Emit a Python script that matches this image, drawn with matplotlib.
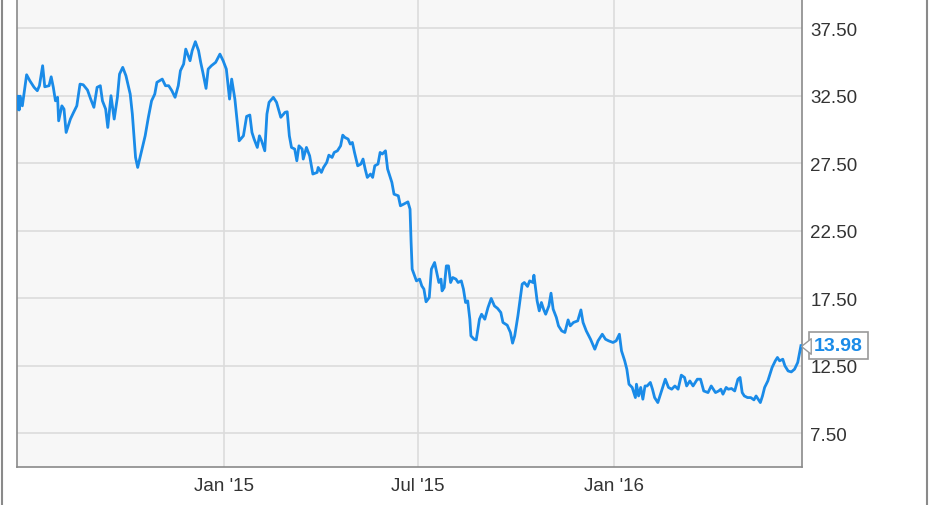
import pandas as pd
import matplotlib
matplotlib.use('Agg')
import matplotlib.pyplot as plt
from matplotlib.lines import Line2D
from matplotlib.path import Path
from matplotlib.markers import MarkerStyle

plt.rcParams['font.family'] = ['Liberation Sans', 'DejaVu Sans']

# Дані: дні від 2015-01-01 та ціна закриття
base_date = pd.Timestamp('2015-01-01')
day_offsets = [
    -194, -193, -192, -191, -189, -185, -182, -178, -175, -173,
    -170, -168, -164, -162, -160, -158, -156, -155, -152, -150,
    -148, -144, -141, -138, -135, -132, -128, -125, -122, -119,
    -116, -114, -111, -109, -106, -103, -100, -98, -95, -92,
    -88, -86, -83, -81, -78, -74, -71, -68, -65, -63,
    -58, -55, -52, -49, -46, -43, -41, -38, -36, -32,
    -30, -27, -24, -22, -20, -17, -15, -12, -8, -4,
    -1, 2, 5, 7, 10, 14, 18, 21, 24, 26,
    28, 31, 33, 35, 38, 40, 42, 46, 49, 53,
    57, 59, 61, 63, 66, 68, 70, 73, 74, 77,
    80, 83, 87, 88, 91, 93, 96, 98, 101, 103,
    106, 109, 111, 113, 116, 118, 120, 122, 125, 128,
    130, 132, 134, 137, 139, 141, 144, 146, 148, 151,
    153, 157, 159, 163, 165, 168, 172, 174, 175, 176,
    180, 183, 185, 187, 189, 192, 194, 197, 199, 201,
    203, 204, 206, 208, 210, 212, 214, 217, 219, 222,
    224, 226, 228, 230, 231, 234, 236, 239, 241, 244,
    247, 250, 253, 256, 259, 261, 265, 268, 270, 272,
    275, 279, 281, 284, 286, 289, 290, 293, 295, 297,
    299, 301, 304, 306, 308, 311, 313, 316, 319, 322,
    324, 327, 331, 334, 336, 339, 343, 347, 350, 354,
    357, 360, 364, 367, 370, 372, 375, 377, 379, 382,
    385, 386, 388, 390, 392, 394, 396, 399, 401, 403,
    406, 409, 413, 416, 419, 422, 425, 428, 431, 433,
    436, 439, 443, 446, 449, 453, 456, 460, 463, 465,
    467, 470, 472, 475, 478, 481, 483, 485, 487, 490,
    493, 496, 498, 502, 504, 506, 509, 513, 516, 518,
    520, 523, 525, 528, 531, 534, 537, 540,
]
prices = [
    31.5, 32.46, 31.43, 32.46, 31.74, 34.04, 33.6, 33.11, 32.86, 33.23,
    34.71, 33.15, 33.23, 33.89, 33.11, 32.11, 32.37, 30.63, 31.74, 31.5,
    29.77, 30.76, 31.26, 31.74, 33.35, 33.3, 32.91, 32.24, 31.63, 33.11,
    33.23, 32.11, 31.5, 30.14, 32.49, 30.76, 32.37, 34.09, 34.59, 33.97,
    32.61, 31.13, 27.92, 27.18, 28.17, 29.52, 30.89, 32.11, 32.61, 33.48,
    33.72, 33.23, 33.23, 32.86, 32.37, 33.23, 34.34, 34.83, 35.94, 35.08,
    35.82, 36.49, 35.82, 34.96, 34.22, 33.03, 34.46, 34.71, 34.96, 35.57,
    35.08, 34.46, 32.24, 33.72, 32.24, 29.15, 29.52, 30.96, 31.06, 29.77,
    29.28, 28.66, 29.52, 29.15, 28.41, 31.13, 32.0, 32.37, 32.0, 30.89,
    31.26, 31.3, 29.52, 28.66, 28.54, 27.67, 28.78, 28.54, 27.8, 28.66,
    28.04, 26.69, 26.81, 27.18, 26.81, 27.18, 27.55, 28.09, 27.92, 28.29,
    28.41, 28.78, 29.57, 29.4, 29.28, 28.91, 29.03, 28.29, 27.3, 27.43,
    27.8, 27.06, 26.44, 26.69, 26.44, 27.3, 27.43, 28.29, 28.17, 28.41,
    27.06, 26.07, 25.2, 25.08, 24.34, 24.46, 24.63, 24.09, 21.63, 19.65,
    18.78, 18.91, 18.41, 18.17, 17.23, 17.55, 19.65, 20.14, 19.4, 18.66,
    18.91, 18.04, 18.29, 19.89, 19.89, 18.66, 19.03, 18.91, 18.66, 18.78,
    18.17, 17.18, 17.3, 15.94, 14.71, 14.46, 14.41, 15.94, 16.31, 15.94,
    16.81, 17.48, 16.93, 16.74, 16.44, 15.7, 15.5, 14.96, 14.17, 14.71,
    16.19, 18.54, 18.66, 18.37, 18.78, 18.66, 19.2, 17.3, 16.56, 17.18,
    16.69, 16.31, 16.93, 17.87, 16.69, 16.07, 15.45, 15.08, 14.96, 15.89,
    15.45, 15.7, 15.82, 16.63, 15.7, 15.08, 14.46, 13.72, 14.34, 14.83,
    14.46, 14.34, 14.22, 14.34, 14.83, 13.6, 12.86, 12.24, 11.13, 10.89,
    10.14, 11.13, 10.26, 10.89, 10.02, 11.0, 11.0, 11.26, 10.76, 10.14,
    9.77, 10.51, 11.5, 10.89, 10.76, 11.0, 10.76, 11.8, 11.63, 11.0,
    11.37, 11.0, 11.5, 11.5, 10.63, 10.51, 11.0, 10.51, 10.63, 10.76,
    10.39, 10.89, 10.76, 10.81, 10.63, 11.5, 11.63, 10.51, 10.26, 10.14,
    10.14, 9.97, 10.26, 9.77, 10.26, 10.89, 11.37, 12.37, 12.86, 13.11,
    12.86, 12.98, 12.49, 12.11, 12.04, 12.24, 12.74, 13.98,
]
y_ticks = [7.5, 12.5, 17.5, 22.5, 27.5, 32.5, 37.5]
x_tick_dates = ['2015-01-01', '2015-07-01', '2016-01-01']
x_tick_labels = ["Jan '15", "Jul '15", "Jan '16"]

dates = base_date + pd.to_timedelta(day_offsets, unit='D')
line_color = '#1a8be8'

fig = plt.figure(figsize=(9.31, 5.06), dpi=100)
ax = fig.add_axes([17 / 931, 38 / 506, 785 / 931, 468 / 506])
ax.set_facecolor('#f7f7f7')

ax.plot(dates, prices, color=line_color, linewidth=2.0, zorder=3)

ax.set_xlim(pd.Timestamp('2014-06-21'), pd.Timestamp('2016-06-25'))
ax.set_ylim(5.0, 39.65)

ax.set_xticks(pd.to_datetime(x_tick_dates))
ax.set_xticklabels(x_tick_labels)
ax.set_yticks(y_ticks)
ax.set_yticklabels([f'{v:.2f}' for v in y_ticks])
ax.yaxis.tick_right()
ax.tick_params(axis='both', length=0, labelsize=13.5, labelcolor='#333333')
ax.tick_params(axis='y', pad=6)
ax.tick_params(axis='x', pad=7)

ax.grid(True, color='#dcdcdc', linewidth=1.2)
ax.set_axisbelow(True)

for side in ['left', 'bottom', 'right']:
    ax.spines[side].set_color('#8a8a8a')
    ax.spines[side].set_linewidth(1.2)
ax.spines['top'].set_visible(False)

# Мітка останнього значення
last_date, last_val = dates[-1], prices[-1]
ax.annotate(f'{last_val:.2f}', xy=(last_date, last_val), xytext=(9.5, 0),
            textcoords='offset points', ha='left', va='center',
            fontsize=14, fontweight='bold', color=line_color,
            bbox=dict(boxstyle='square,pad=0.25', fc='white', ec='#9a9a9a', lw=1.2),
            annotation_clip=False, zorder=5)
pointer = Path([(0, 0), (1, 0.8), (1, -0.8), (0, 0)])
ax.plot(last_date, last_val, marker=MarkerStyle(pointer), markersize=14,
        markerfacecolor='white', markeredgecolor='#9a9a9a', markeredgewidth=1.0,
        clip_on=False, zorder=6)

# Зовнішня рамка
fig.add_artist(Line2D([2 / 931, 2 / 931], [0, 1], color='#8a8a8a', linewidth=1.5))
fig.add_artist(Line2D([926.5 / 931, 926.5 / 931], [0, 1], color='#8a8a8a', linewidth=1.5))

plt.savefig('out.png', dpi=100)
